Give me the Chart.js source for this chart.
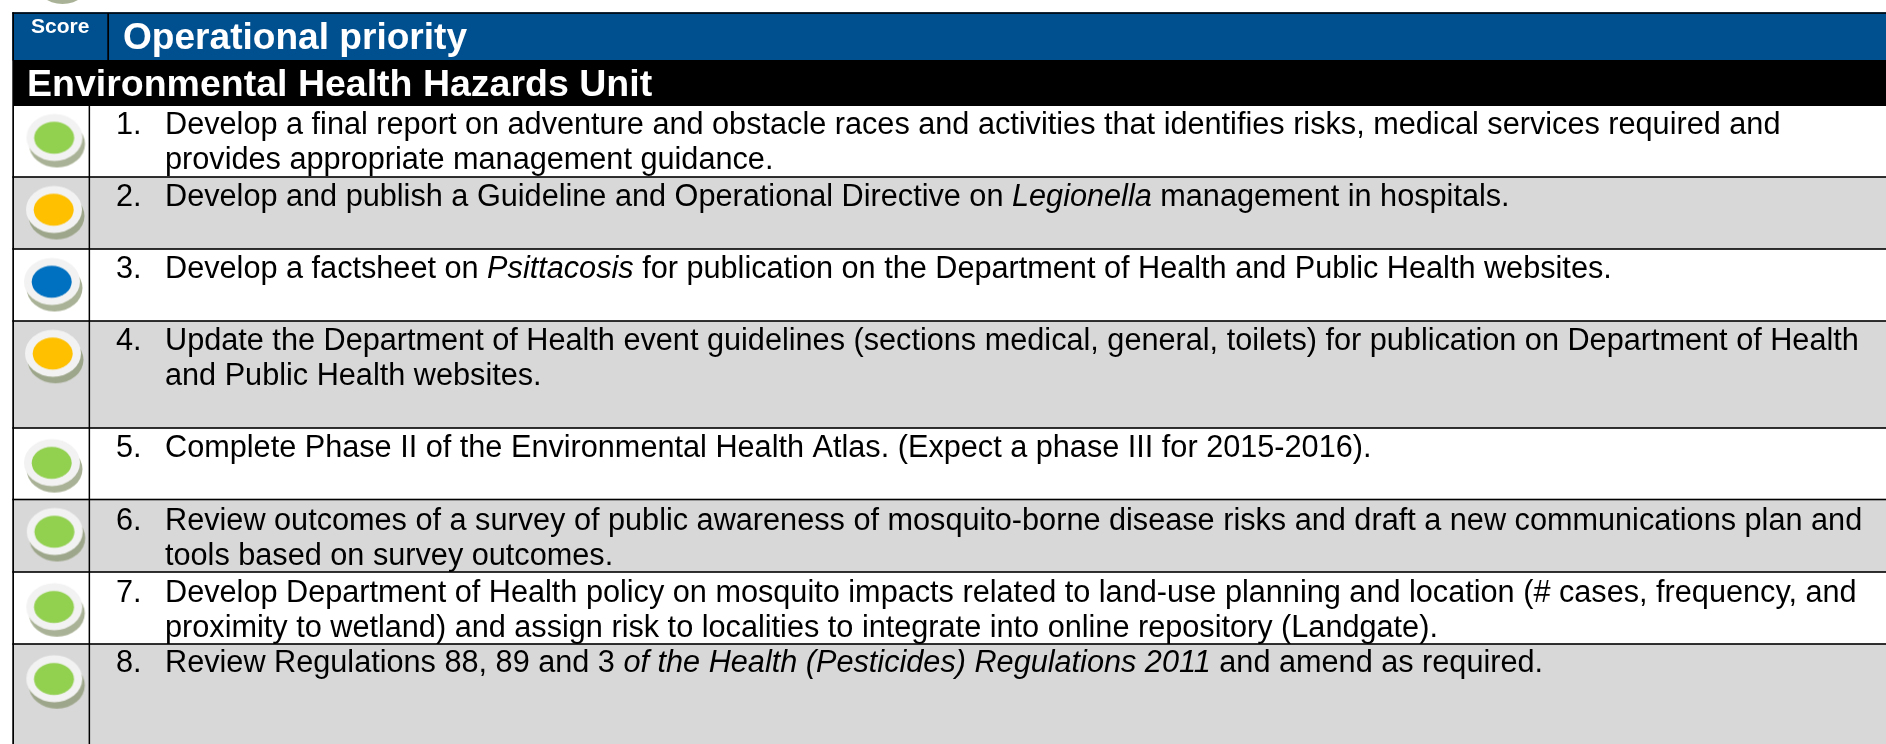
<!DOCTYPE html>
<html>
<head>
<meta charset="utf-8">
<title>Operational priority</title>
<script src="https://cdn.jsdelivr.net/npm/chart.js@4"></script>
<style>
    html, body { margin: 0; padding: 0; background: #fff; overflow: hidden; }
    /* starts above the window so the cut-off light from the previous page can be drawn */
    #wrap { width: 1886px; height: 784px; margin-top: -40px; }
</style>
</head>
<body>
<div id="wrap"><canvas id="scoreChart"></canvas></div>
<script>
// values, in picture units
const scoreHeader = 'Score';
const priorityHeader = 'Operational priority';
const unitTitle = 'Environmental Health Hazards Unit';

const rowEdges = [106, 177, 249, 321, 428, 499.5, 572, 644, 744];
const rowBaselines = [134, 206, 278, 350, 457, 530, 602, 672];
const rowShaded = [false, true, false, true, false, true, false, true];

const scores = ['green', 'amber', 'blue', 'amber', 'green', 'green', 'green', 'green', 'green'];
const scoreX = [54.5, 54, 52, 53, 52, 54.7, 54.3, 54.3, 60];
const scoreY = [137.5, 209.5, 281.5, 353.3, 462.6, 531.5, 606.7, 678.7, -26];

const itemNumbers = ['1.', '2.', '3.', '4.', '5.', '6.', '7.', '8.'];
const itemLines = [
    ['Develop a final report on adventure and obstacle races and activities that identifies risks, medical services required and',
     'provides appropriate management guidance.'],
    ['Develop and publish a Guideline and Operational Directive on *Legionella* management in hospitals.'],
    ['Develop a factsheet on *Psittacosis* for publication on the Department of Health and Public Health websites.'],
    ['Update the Department of Health event guidelines (sections medical, general, toilets) for publication on Department of Health',
     'and Public Health websites.'],
    ['Complete Phase II of the Environmental Health Atlas. (Expect a phase III for 2015-2016).'],
    ['Review outcomes of a survey of public awareness of mosquito-borne disease risks and draft a new communications plan and',
     'tools based on survey outcomes.'],
    ['Develop Department of Health policy on mosquito impacts related to land-use planning and location (# cases, frequency, and',
     'proximity to wetland) and assign risk to localities to integrate into online repository (Landgate).'],
    ['Review Regulations 88, 89 and 3 *of the Health (Pesticides) Regulations 2011* and amend as required.']
];

const scoreColors = { green: '#92D050', amber: '#FFC000', blue: '#0070C0' };
const fontName = '"Liberation Sans", Arial, sans-serif';

// the score light: shadow, white ring, coloured centre
function makeIcon(color) {
    const c = document.createElement('canvas');
    c.width = 72;
    c.height = 72;
    const g = c.getContext('2d');
    g.fillStyle = 'rgba(132,146,105,0.7)';
    g.beginPath();
    g.ellipse(38.5, 42.5, 28, 23.5, 0, 0, Math.PI * 2);
    g.fill();
    g.fillStyle = '#F2F2F2';
    g.beginPath();
    g.ellipse(36, 36, 28, 23.5, 0, 0, Math.PI * 2);
    g.fill();
    g.fillStyle = color;
    g.beginPath();
    g.ellipse(35.7, 36.3, 20, 16, 0, 0, Math.PI * 2);
    g.fill();
    return c;
}

const icons = {};
Object.keys(scoreColors).forEach(function (k) {
    icons[k] = makeIcon(scoreColors[k]);
});

function drawRuns(ctx, text, x, y, size) {
    const parts = text.split('*');
    parts.forEach(function (part, i) {
        ctx.font = (i % 2 ? 'italic ' : '') + size + 'px ' + fontName;
        ctx.fillText(part, x, y);
        x += ctx.measureText(part).width;
    });
}

const tablePlugin = {
    id: 'tablePlugin',
    beforeDatasetsDraw(chart) {
        const ctx = chart.ctx;
        const sx = chart.scales.x;
        const sy = chart.scales.y;
        const x0 = sx.getPixelForValue(12.3);
        const right = sx.getPixelForValue(1886);
        ctx.save();

        // header bands
        ctx.fillStyle = '#004F8F';
        ctx.fillRect(x0, sy.getPixelForValue(12.3), right - x0, 48);
        ctx.fillStyle = '#000';
        ctx.fillRect(x0, sy.getPixelForValue(60), right - x0, 46);
        ctx.fillRect(x0, sy.getPixelForValue(12.3), right - x0, 1.5);
        ctx.fillRect(x0, sy.getPixelForValue(12.3), 1.7, 48);
        ctx.fillRect(sx.getPixelForValue(107.3), sy.getPixelForValue(13), 1.7, 47);

        // rows
        rowShaded.forEach(function (shaded, i) {
            const top = sy.getPixelForValue(rowEdges[i]);
            const bottom = sy.getPixelForValue(rowEdges[i + 1]);
            ctx.fillStyle = shaded ? '#D8D8D8' : '#FFFFFF';
            ctx.fillRect(x0, top, right - x0, bottom - top);
        });
        ctx.fillStyle = '#000';
        rowEdges.slice(1, -1).forEach(function (edge) {
            ctx.fillRect(x0, sy.getPixelForValue(edge) - 0.8, right - x0, 1.6);
        });
        ctx.fillRect(x0, sy.getPixelForValue(106), 1.7, sy.getPixelForValue(744) - sy.getPixelForValue(106));
        ctx.fillRect(sx.getPixelForValue(88.6), sy.getPixelForValue(106), 1.5, sy.getPixelForValue(744) - sy.getPixelForValue(106));
        ctx.restore();
    },
    afterDatasetsDraw(chart) {
        const ctx = chart.ctx;
        const sx = chart.scales.x;
        const sy = chart.scales.y;
        ctx.save();
        ctx.textBaseline = 'alphabetic';
        ctx.textAlign = 'left';

        ctx.fillStyle = '#fff';
        ctx.font = 'bold 21px ' + fontName;
        ctx.fillText(scoreHeader, sx.getPixelForValue(31), sy.getPixelForValue(32.5));
        ctx.font = 'bold 37.1px ' + fontName;
        ctx.fillText(priorityHeader, sx.getPixelForValue(123), sy.getPixelForValue(49));
        ctx.font = 'bold 37.5px ' + fontName;
        ctx.fillText(unitTitle, sx.getPixelForValue(27), sy.getPixelForValue(96));

        ctx.fillStyle = '#000';
        itemLines.forEach(function (lines, i) {
            const base = rowBaselines[i];
            ctx.font = '30.67px ' + fontName;
            ctx.fillText(itemNumbers[i], sx.getPixelForValue(116), sy.getPixelForValue(base));
            lines.forEach(function (line, j) {
                drawRuns(ctx, line, sx.getPixelForValue(165), sy.getPixelForValue(base + j * 35), 30.67);
            });
        });
        ctx.restore();
    }
};

new Chart(document.getElementById('scoreChart'), {
    type: 'scatter',
    data: {
        datasets: [{
            label: 'Score',
            data: scoreX.map(function (x, i) { return { x: x, y: scoreY[i] }; }),
            pointStyle: function (c) { return icons[scores[c.dataIndex]]; },
            clip: false
        }]
    },
    options: {
        responsive: true,
        maintainAspectRatio: false,
        animation: false,
        layout: { padding: 0, autoPadding: false },
        plugins: { legend: { display: false }, tooltip: { enabled: false } },
        scales: {
            x: { type: 'linear', min: 0, max: 1886, display: false },
            y: { type: 'linear', min: -40, max: 744, reverse: true, display: false }
        }
    },
    plugins: [tablePlugin]
});
</script>
</body>
</html>
